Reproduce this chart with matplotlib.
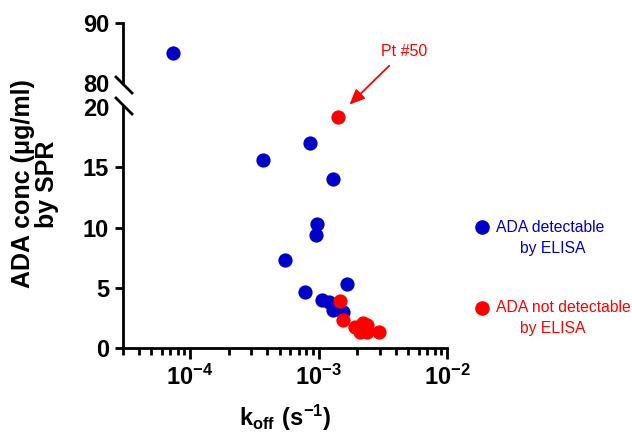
import math
import matplotlib
matplotlib.use('Agg')
import matplotlib.pyplot as plt
from matplotlib.lines import Line2D
from matplotlib.ticker import LogLocator, FuncFormatter, NullFormatter

plt.rcParams['font.family'] = ['Liberation Sans', 'DejaVu Sans']
plt.rcParams['mathtext.fontset'] = 'custom'
plt.rcParams['mathtext.rm'] = 'Liberation Sans'
plt.rcParams['mathtext.bf'] = 'Liberation Sans:bold'

# ADA detectable by ELISA (blue)
koff_det = [7.4e-5, 3.66e-4, 8.5e-4, 1.29e-3, 9.8e-4, 9.5e-4, 5.44e-4, 1.65e-3,
            7.8e-4, 1.07e-3, 1.2e-3, 1.29e-3, 1.54e-3]
conc_det = [85.0, 15.6, 17.0, 14.0, 10.3, 9.4, 7.3, 5.3, 4.65, 4.0, 3.85, 3.15, 3.0]

# ADA not detectable by ELISA (red)
koff_nd = [1.41e-3, 1.48e-3, 1.54e-3, 1.91e-3, 2.2e-3, 2.4e-3, 2.12e-3, 2.4e-3,
           2.93e-3, 2.24e-3, 2.05e-3]
conc_nd = [19.2, 3.9, 2.3, 1.75, 2.05, 1.9, 1.35, 1.35, 1.3, 1.65, 1.65]

BLUE = '#0000C8'
RED = '#FF0000'

fig = plt.figure(figsize=(6.32, 4.40), dpi=100)
ax_hi = fig.add_axes([0.1946, 0.8114, 0.5127, 0.1364])
ax_lo = fig.add_axes([0.1946, 0.2091, 0.5127, 0.5477])

for ax in (ax_hi, ax_lo):
    ax.scatter(koff_det, conc_det, s=105, color=BLUE, zorder=3, clip_on=False, linewidths=0)
    ax.scatter(koff_nd, conc_nd, s=105, color=RED, zorder=3, clip_on=False, linewidths=0)
    ax.set_xscale('log')
    ax.set_xlim(3e-5, 1e-2)
    ax.spines['top'].set_visible(False)
    ax.spines['right'].set_visible(False)
    ax.spines['left'].set_linewidth(2)
    ax.spines['bottom'].set_linewidth(2)
    ax.tick_params(axis='y', which='major', length=6, width=2, labelsize=17, pad=4)

ax_hi.set_ylim(80, 90)
ax_hi.set_yticks([80, 90])
ax_hi.set_yticklabels(['80', '90'], fontweight='bold')
ax_hi.yaxis.get_major_ticks()[0].tick1line.set_visible(False)
ax_hi.spines['bottom'].set_visible(False)
ax_hi.tick_params(axis='x', which='both', bottom=False, labelbottom=False)

ax_lo.set_ylim(0, 20)
ax_lo.set_yticks([0, 5, 10, 15, 20])
ax_lo.set_yticklabels(['0', '5', '10', '15', '20'], fontweight='bold')
ax_lo.yaxis.get_major_ticks()[-1].tick1line.set_visible(False)
ax_lo.xaxis.set_major_locator(LogLocator(base=10, numticks=10))
ax_lo.xaxis.set_minor_locator(LogLocator(base=10, subs=range(2, 10), numticks=20))
ax_lo.xaxis.set_major_formatter(FuncFormatter(
    lambda v, p: r'$\mathbf{10^{%d}}$' % round(math.log10(v))))
ax_lo.xaxis.set_minor_formatter(NullFormatter())
ax_lo.tick_params(axis='x', which='major', length=8, width=2, labelsize=17, pad=4)
ax_lo.tick_params(axis='x', which='minor', length=5, width=2)

# axis break marks
for (x0, y0, x1, y1) in [(116, 77, 132, 93), (116, 98, 132, 114)]:
    fig.add_artist(Line2D([x0 / 632, x1 / 632], [1 - y0 / 440, 1 - y1 / 440],
                          color='black', lw=2, transform=fig.transFigure))

# labels
fig.text(0.056, 0.582, 'ADA conc (\u03bcg/ml)\nby SPR', rotation=90, ha='center', va='center',
         fontsize=18, fontweight='bold', linespacing=1.0)
ax_lo.set_xlabel(r'$\mathbf{k_{off}\ (s^{-1})}$', fontsize=17, labelpad=9)

# annotation for Pt #50
ax_lo.annotate('Pt #50', xy=(1.74e-3, 20.2), xytext=(4.6e-3, 24.6), color=RED, fontsize=11.5,
               ha='center', va='center', annotation_clip=False,
               arrowprops=dict(arrowstyle='-|>,head_length=0.8,head_width=0.35', color=RED,
                               lw=1.3, shrinkA=4, shrinkB=0))

# legend
for (py, col, line1) in [(227, BLUE, 'ADA detectable'), (308, RED, 'ADA not detectable')]:
    fig.add_artist(Line2D([482 / 632], [1 - py / 440], marker='o', markersize=10.5,
                          color=col, markeredgewidth=0, transform=fig.transFigure))
    fig.text(496 / 632, 1 - py / 440, line1, color=col, fontsize=11.3, ha='left', va='center')
    fig.text(520 / 632, 1 - (py + 21) / 440, 'by ELISA', color=col, fontsize=11.3,
             ha='left', va='center')

fig.savefig('out.png', dpi=100)
